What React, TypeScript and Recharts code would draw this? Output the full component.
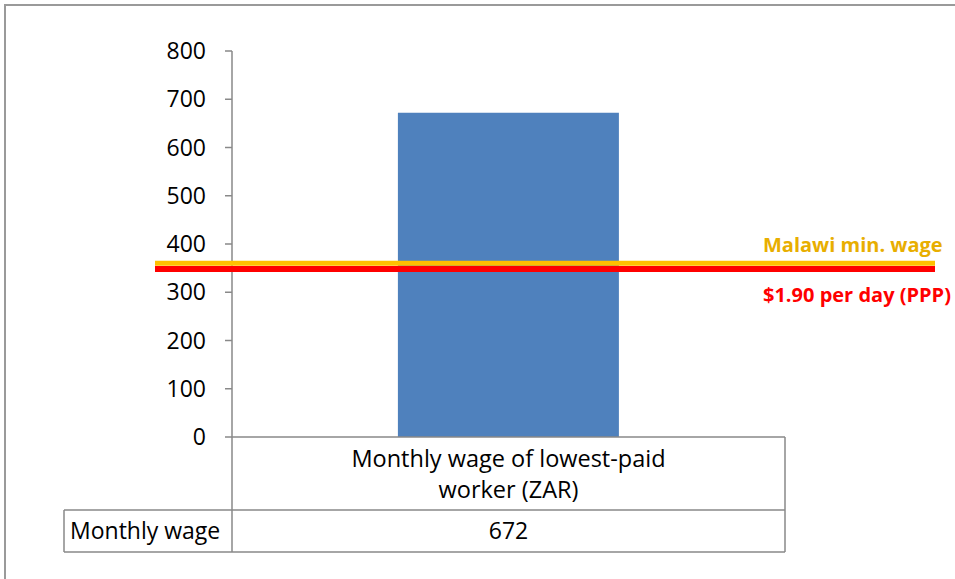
import React from 'react';
import { BarChart, Bar, XAxis, YAxis, ReferenceLine } from 'recharts';

const categories = ['Monthly wage of lowest-paid worker (ZAR)'];
const seriesName = 'Monthly wage';
const wageValues = [672];
const yTicks = [0, 100, 200, 300, 400, 500, 600, 700, 800];
const malawiMinWage = 360;
const povertyLine = 348;
const malawiLabel = 'Malawi min. wage';
const povertyLabel = '$1.90 per day (PPP)';

const data = categories.map((c, i) => ({ category: c, value: wageValues[i] }));

const W = 955;
const H = 579;
const X_AXIS_H = 30;
const MARGIN = { top: 51, right: 170, bottom: 142 - X_AXIS_H, left: 0 };
const Y_AXIS_W = 232;
const PLOT_L = MARGIN.left + Y_AXIS_W;
const PLOT_R = W - MARGIN.right;
const AXIS_Y = H - MARGIN.bottom - X_AXIS_H;
const TABLE_L = 64;
const ROW1_B = AXIS_Y + 73;
const ROW2_B = AXIS_Y + 115;
const GRID = '#898989';
const FONT = '"Open Sans", "Noto Sans", sans-serif';

function wrap(text: string, maxChars: number): string[] {
  const words = text.split(' ');
  const lines: string[] = [];
  let cur = '';
  for (const w of words) {
    const next = cur ? cur + ' ' + w : w;
    if (next.length > maxChars && cur) {
      lines.push(cur);
      cur = w;
    } else {
      cur = next;
    }
  }
  if (cur) lines.push(cur);
  return lines;
}

const TableTick = (props: any) => {
  const { x, payload } = props;
  const lines = wrap(String(payload.value), 28);
  const row = data.find((d) => d.category === payload.value);
  return (
    <g>
      {lines.map((l, i) => (
        <text key={i} x={x} y={AXIS_Y + 30 + i * 31} textAnchor="middle" fontSize={23.5} fontFamily={FONT} fill="#000">
          {l}
        </text>
      ))}
      <line x1={PLOT_L} y1={AXIS_Y} x2={PLOT_L} y2={ROW2_B} stroke={GRID} strokeWidth={1.5} />
      <line x1={PLOT_R} y1={AXIS_Y} x2={PLOT_R} y2={ROW2_B} stroke={GRID} strokeWidth={1.5} />
      <line x1={TABLE_L} y1={ROW1_B} x2={PLOT_R} y2={ROW1_B} stroke={GRID} strokeWidth={1.5} />
      <line x1={TABLE_L} y1={ROW2_B} x2={PLOT_R} y2={ROW2_B} stroke={GRID} strokeWidth={1.5} />
      <line x1={TABLE_L} y1={ROW1_B} x2={TABLE_L} y2={ROW2_B} stroke={GRID} strokeWidth={1.5} />
      <text x={TABLE_L + 6} y={ROW2_B - 13} textAnchor="start" fontSize={23} fontFamily={FONT} fill="#000">
        {seriesName}
      </text>
      <text x={x} y={ROW2_B - 13} textAnchor="middle" fontSize={23} fontFamily={FONT} fill="#000">
        {row ? row.value : ''}
      </text>
    </g>
  );
};

const makeShape = (color: string, width: number) => (p: any) => (
  <line x1={p.x1 - 77} y1={p.y1} x2={p.x2 + 150} y2={p.y2} stroke={color} strokeWidth={width} />
);

const makeLabel = (text: string, color: string, dy: number) => (p: any) => {
  const vb = p.viewBox || {};
  return (
    <text x={vb.x + vb.width - 22} y={vb.y + dy} fontSize={20} fontWeight="bold" fontFamily={FONT} fill={color}>
      {text}
    </text>
  );
};

export default function App() {
  return (
    <div style={{ position: 'absolute', left: 0, top: 0, width: W, height: H, overflow: 'hidden', background: '#fff' }}>
      <div
        style={{
          position: 'absolute',
          left: 4,
          top: 4,
          width: 1200,
          height: 1200,
          border: '2px solid #9a9a9a',
          boxSizing: 'border-box',
        }}
      />
      <div style={{ position: 'absolute', left: 0, top: 0 }}>
        <BarChart width={W} height={H} data={data} margin={MARGIN} barCategoryGap="30%">
          <XAxis
            dataKey="category"
            height={X_AXIS_H}
            axisLine={{ stroke: GRID, strokeWidth: 1.5 }}
            tickLine={false}
            tickSize={0}
            tickMargin={0}
            tick={<TableTick />}
            interval={0}
          />
          <YAxis
            width={Y_AXIS_W}
            domain={[0, 800]}
            ticks={yTicks}
            interval={0}
            axisLine={{ stroke: GRID, strokeWidth: 1.5 }}
            tickLine={{ stroke: GRID, strokeWidth: 1.5 }}
            tickSize={7}
            tickMargin={19}
            tick={{ fontSize: 23, fontFamily: FONT, fill: '#000' }}
          />
          <Bar dataKey="value" name={seriesName} fill="#4F81BD" isAnimationActive={false} />
          <ReferenceLine
            y={malawiMinWage}
            zIndex={1000}
            shape={makeShape('#FFC000', 5)}
            label={makeLabel(malawiLabel, '#E8AE00', -11)}
          />
          <ReferenceLine
            y={povertyLine}
            zIndex={1001}
            shape={makeShape('#FF0000', 6)}
            label={makeLabel(povertyLabel, '#FF0000', 33)}
          />
        </BarChart>
      </div>
    </div>
  );
}
